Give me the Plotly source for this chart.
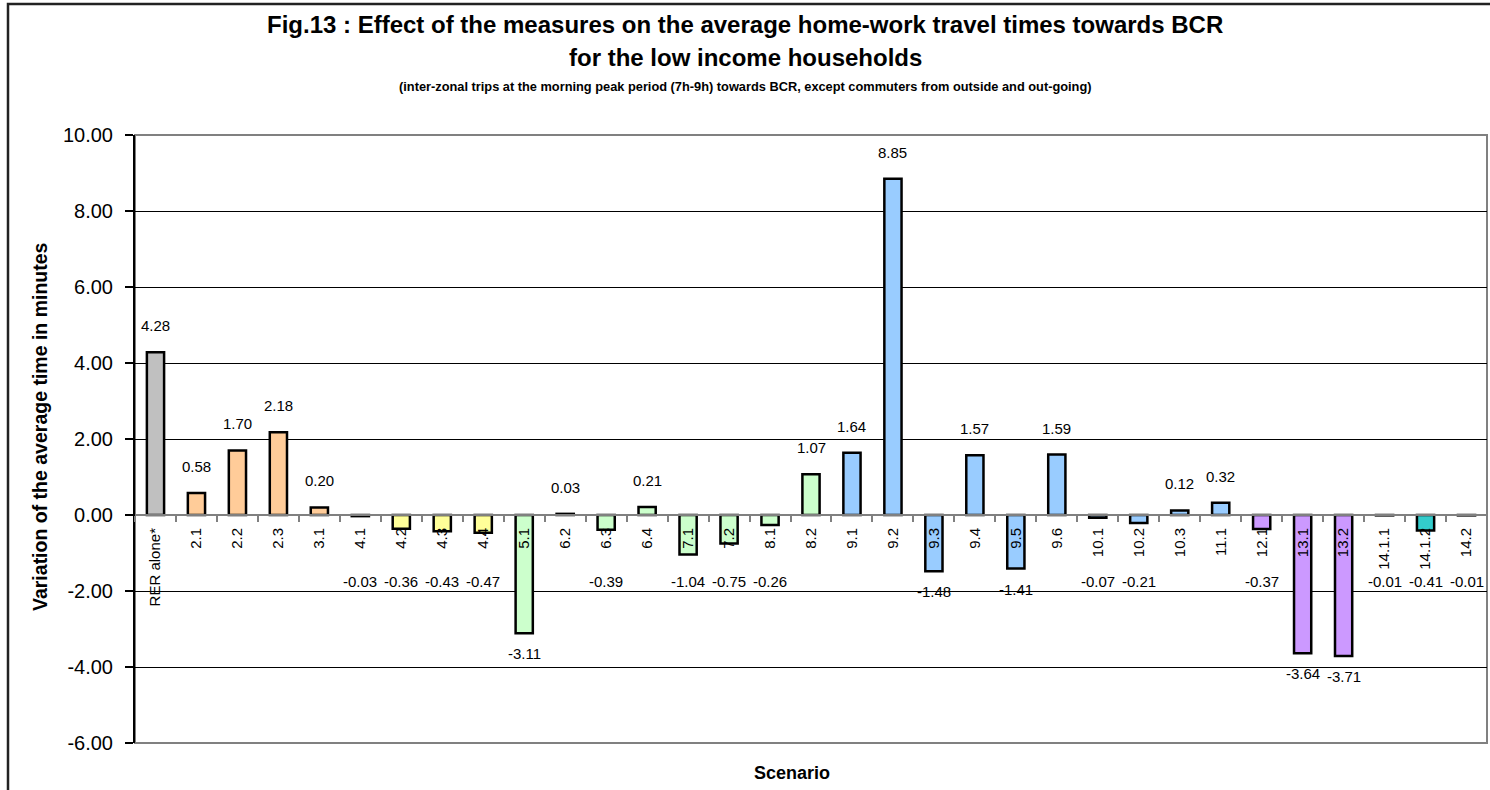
import plotly.graph_objects as go

categories = ["RER alone*", "2.1", "2.2", "2.3", "3.1", "4.1", "4.2", "4.3", "4.4", "5.1",
              "6.2", "6.3", "6.4", "7.1", "7.2", "8.1", "8.2", "9.1", "9.2", "9.3",
              "9.4", "9.5", "9.6", "10.1", "10.2", "10.3", "11.1", "12.1", "13.1", "13.2",
              "14.1.1", "14.1.2", "14.2"]
values = [4.28, 0.58, 1.70, 2.18, 0.20, -0.03, -0.36, -0.43, -0.47, -3.11,
          0.03, -0.39, 0.21, -1.04, -0.75, -0.26, 1.07, 1.64, 8.85, -1.48,
          1.57, -1.41, 1.59, -0.07, -0.21, 0.12, 0.32, -0.37, -3.64, -3.71,
          -0.01, -0.41, -0.01]
groups = ["rer", "g2", "g2", "g2", "g2", "g4", "g4", "g4", "g4", "g5",
          "g5", "g5", "g5", "g5", "g5", "g5", "g5", "g9", "g9", "g9",
          "g9", "g9", "g9", "g9", "g9", "g9", "g9", "g12", "g12", "g12",
          "g14", "g14", "g14"]
group_colors = {"rer": "#C0C0C0", "g2": "#FFCC99", "g4": "#FFFF99", "g5": "#CCFFCC",
                "g9": "#99CCFF", "g12": "#CC99FF", "g14": "#33CCCC"}
y_ticks = [-6, -4, -2, 0, 2, 4, 6, 8, 10]
y_tick_labels = [f"{v:.2f}" for v in y_ticks]

title_1 = "Fig.13 : Effect of the measures on the average home-work travel times towards BCR"
title_2 = "for the low income households"
subtitle = ("(inter-zonal trips at the morning peak period (7h-9h) towards BCR, "
            "except commuters from outside and out-going)")
x_title = "Scenario"
y_title = "Variation of the average time in minutes"

FONT = "Liberation Sans, Arial, sans-serif"
W, H = 1490, 790
L, R, T, B = 135, 3, 135, 47
PW, PH = W - L - R, H - T - B


def px_x(p):
    return (p - L) / PW


def px_y(p):
    return (T + PH - p) / PH


fig = go.Figure()
fig.add_trace(go.Bar(
    x=categories, y=values,
    marker=dict(color=[group_colors[g] for g in groups],
                line=dict(color="black", width=2.5)),
    hoverinfo="x+y", showlegend=False,
))

annotations = []
for i, v in enumerate(values):
    if v >= 0:
        annotations.append(dict(x=i, y=v, xref="x", yref="y", text=f"{v:.2f}",
                                showarrow=False, yanchor="bottom", yshift=16,
                                font=dict(family=FONT, size=15, color="black")))
    else:
        annotations.append(dict(x=i, y=min(v, -1.2), xref="x", yref="y", text=f"{v:.2f}",
                                showarrow=False, yanchor="top", yshift=-10,
                                font=dict(family=FONT, size=15, color="black")))

# titles
annotations += [
    dict(text=f"<b>{title_1}</b>", xref="paper", yref="paper", x=px_x(745), y=px_y(25),
         xanchor="center", yanchor="middle", showarrow=False,
         font=dict(family=FONT, size=24, color="black")),
    dict(text=f"<b>{title_2}</b>", xref="paper", yref="paper", x=px_x(745), y=px_y(58),
         xanchor="center", yanchor="middle", showarrow=False,
         font=dict(family=FONT, size=24, color="black")),
    dict(text=f"<b>{subtitle}</b>", xref="paper", yref="paper", x=px_x(745), y=px_y(87),
         xanchor="center", yanchor="middle", showarrow=False,
         font=dict(family=FONT, size=12.8, color="black")),
    dict(text=f"<b>{x_title}</b>", xref="paper", yref="paper", x=px_x(792), y=px_y(773),
         xanchor="center", yanchor="middle", showarrow=False,
         font=dict(family=FONT, size=18, color="black")),
    dict(text=f"<b>{y_title}</b>", xref="paper", yref="paper", x=px_x(40), y=px_y(427),
         textangle=-90, xanchor="center", yanchor="middle", showarrow=False,
         font=dict(family=FONT, size=19.5, color="black")),
]

shapes = [
    # plot area frame
    dict(type="rect", xref="paper", yref="paper", x0=0, x1=1, y0=0, y1=1,
         line=dict(color="#808080", width=2), layer="between"),
    # outer chart border (right/bottom edges fall outside the page)
    dict(type="rect", xref="paper", yref="paper",
         x0=px_x(8), x1=1.2, y0=-0.3, y1=px_y(4),
         line=dict(color="#222222", width=2.5), layer="above"),
]

fig.update_layout(
    width=W, height=H,
    margin=dict(l=L, r=R, t=T, b=B),
    paper_bgcolor="white", plot_bgcolor="white",
    bargap=0.58,
    xaxis=dict(
        type="category", anchor="free", position=(0 - (-6)) / 16,
        showline=True, linecolor="#808080", linewidth=2,
        ticks="outside", ticklen=6, tickcolor="#808080", tickwidth=1.5,
        tickson="boundaries", tickangle=-90, showgrid=False,
        tickfont=dict(family=FONT, size=15, color="black"),
        ticklabelstandoff=6,
    ),
    yaxis=dict(
        range=[-6, 10], tickvals=y_ticks, ticktext=y_tick_labels,
        showline=True, linecolor="black", linewidth=2,
        ticks="outside", ticklen=8, tickcolor="black", tickwidth=1.5,
        showgrid=True, gridcolor="black", gridwidth=1, zeroline=False,
        tickfont=dict(family=FONT, size=20, color="black"),
        ticklabelstandoff=8,
    ),
    annotations=annotations,
    shapes=shapes,
)

fig.write_html("out.html", config={"displayModeBar": False},
               post_script="document.body.style.margin='0';document.body.style.overflow='hidden';")
